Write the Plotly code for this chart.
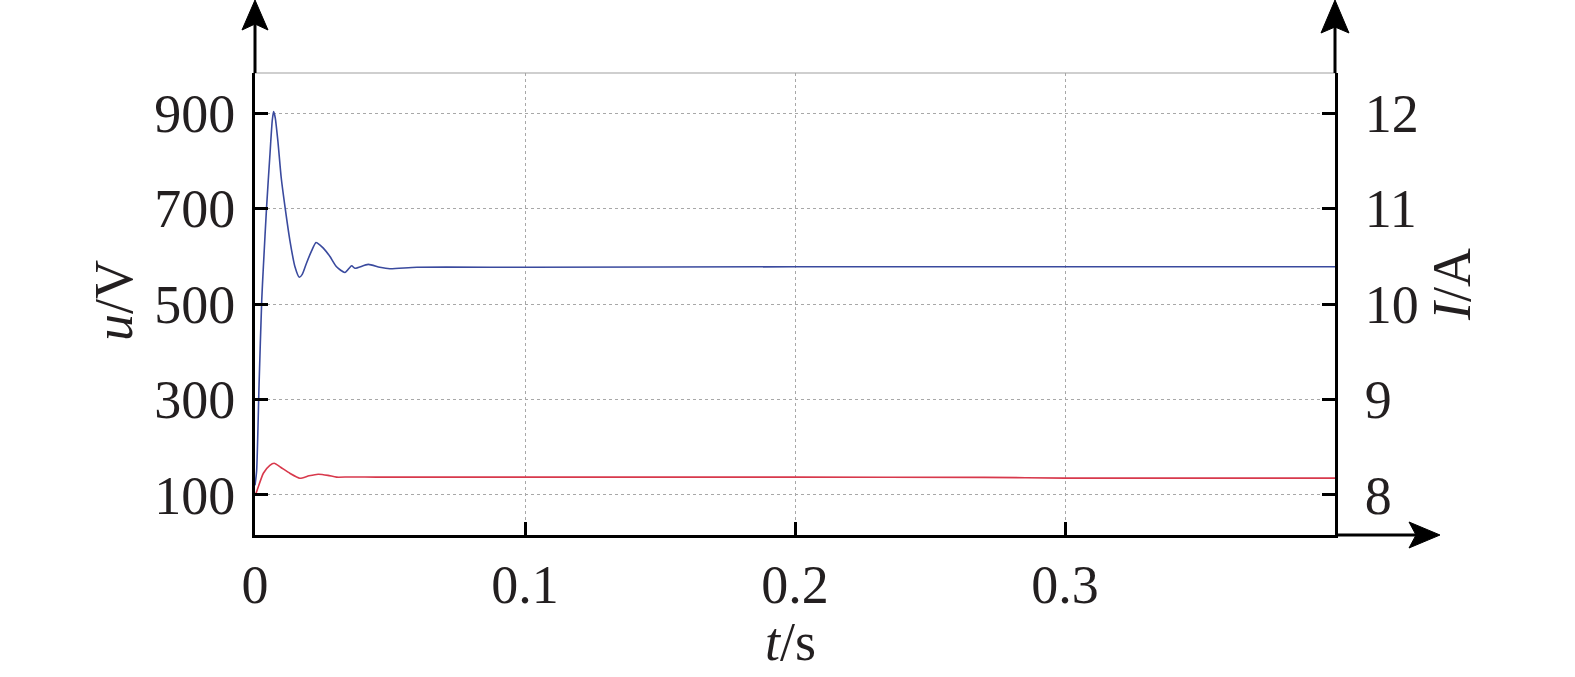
import plotly.graph_objects as go

# ---- data ----
t_u = [0.0, 0.0006, 0.0015, 0.0025, 0.0031, 0.0043, 0.0055, 0.0064, 0.0069, 0.0075, 0.0085,
       0.0097, 0.0111, 0.0129, 0.0148, 0.0164, 0.0175, 0.0191, 0.0210, 0.0226, 0.0240,
       0.0253, 0.0277, 0.0302, 0.0333, 0.0358, 0.0370, 0.0419, 0.0462, 0.0499, 0.06, 0.1,
       0.2, 0.3, 0.4]
u_V = [120, 150, 330, 509, 578, 704, 810, 885, 903, 890, 840,
       765, 704, 634, 578, 556, 562, 586, 612, 629, 624,
       617, 600, 578, 566, 580, 575, 583, 577, 574, 577, 577,
       578, 578, 578]

t_i = [0.0, 0.0004, 0.0031, 0.0055, 0.0071, 0.0095, 0.0129, 0.0166, 0.0200, 0.0234,
       0.0270, 0.0302, 0.035, 0.045, 0.1, 0.2, 0.27, 0.3, 0.4]
I_A = [8.00, 8.02, 8.227, 8.31, 8.332, 8.29, 8.227, 8.175, 8.20, 8.217,
       8.205, 8.186, 8.188, 8.186, 8.186, 8.186, 8.184, 8.176, 8.176]

x_ticks = [0, 0.1, 0.2, 0.3]
x_ticklabels = ["0", "0.1", "0.2", "0.3"]
u_ticks = [100, 300, 500, 700, 900]
i_ticks = [8, 9, 10, 11, 12]

# ---- layout geometry (pixels) ----
W, H = 1575, 677
L, R, T, B = 255, 1335, 73, 535
PW, PH = R - L, B - T

def px(x):
    return (x - L) / PW

def py(y):
    return (B - y) / PH

FONT = "Liberation Serif"
fig = go.Figure()
fig.add_trace(go.Scatter(x=t_u, y=u_V, mode="lines", line=dict(color="#3a4a9e", width=1.6, shape="spline", smoothing=0.6),
                         showlegend=False, yaxis="y"))
fig.add_trace(go.Scatter(x=t_i, y=I_A, mode="lines", line=dict(color="#d8394c", width=1.6, shape="spline", smoothing=0.6),
                         showlegend=False, yaxis="y2"))

axis_common = dict(showline=True, linecolor="black", linewidth=3, ticks="inside",
                   ticklen=13, tickwidth=3, tickcolor="black", zeroline=False,
                   tickfont=dict(family=FONT, size=54, color="#231f20"))

fig.update_layout(
    width=W, height=H,
    margin=dict(l=L, r=W - R, t=T, b=H - B, pad=0, autoexpand=False),
    paper_bgcolor="white", plot_bgcolor="white",
    xaxis=dict(range=[0, 0.4], tickvals=x_ticks, ticktext=x_ticklabels,
               showgrid=True, gridcolor="#a8a8a8", griddash="dot", gridwidth=1,
               ticklabelstandoff=0, **axis_common),
    yaxis=dict(range=[16, 984], tickvals=u_ticks, showgrid=True, gridcolor="#a8a8a8",
               griddash="dot", gridwidth=1, ticklabelstandoff=6, **axis_common),
    yaxis2=dict(range=[7.58, 12.42], tickvals=i_ticks, overlaying="y", side="right",
                showgrid=False, ticklabelstandoff=16, **axis_common),
)

shapes = []
# top grey border
shapes.append(dict(type="line", xref="paper", yref="paper", x0=0, x1=1, y0=1, y1=1,
                   line=dict(color="#a0a0a0", width=1.2)))
# axis extensions
shapes.append(dict(type="line", xref="paper", yref="paper", x0=px(L), x1=px(L), y0=1, y1=py(22),
                   line=dict(color="black", width=3)))
shapes.append(dict(type="line", xref="paper", yref="paper", x0=px(R), x1=px(R), y0=1, y1=py(22),
                   line=dict(color="black", width=3)))
shapes.append(dict(type="line", xref="paper", yref="paper", x0=1, x1=px(1425), y0=0, y1=0,
                   line=dict(color="black", width=3)))

def arrow(pts):
    d = "M " + " L ".join(f"{px(a):.5f},{py(b):.5f}" for a, b in pts) + " Z"
    return dict(type="path", xref="paper", yref="paper", path=d,
                fillcolor="black", line=dict(color="black", width=1))

shapes.append(arrow([(L, 0), (L + 13, 30), (L, 24), (L - 13, 30)]))
shapes.append(arrow([(R, 0), (R + 14, 33), (R, 27), (R - 14, 33)]))
shapes.append(arrow([(1440, B), (1409, B - 13), (1416, B), (1409, B + 13)]))
fig.update_layout(shapes=shapes)

ann_font = dict(family=FONT, size=54, color="#231f20")
fig.add_annotation(text="<i>u</i>/V", x=px(114), y=py(301), xref="paper", yref="paper",
                   showarrow=False, textangle=-90, font=ann_font, xanchor="center", yanchor="middle")
fig.add_annotation(text="<i>I</i>/A", x=px(1452), y=py(285), xref="paper", yref="paper",
                   showarrow=False, textangle=-90, font=ann_font, xanchor="center", yanchor="middle")
fig.add_annotation(text="<i>t</i>/s", x=px(790), y=py(642), xref="paper", yref="paper",
                   showarrow=False, font=ann_font, xanchor="center", yanchor="middle")

fig.write_html("out.html", config={"displayModeBar": False},
               post_script="document.body.style.margin='0';")
